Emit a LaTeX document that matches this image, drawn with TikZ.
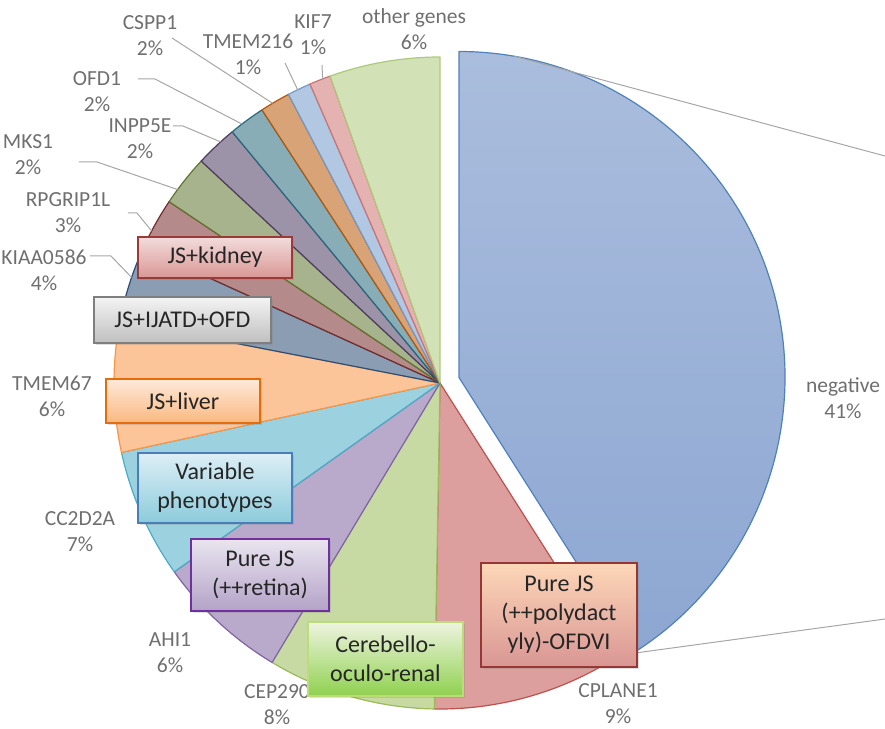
\documentclass[tikz,border=0pt]{standalone}
\usepackage{fontspec}
\setmainfont{Carlito}
\usetikzlibrary{calc,shadows}
% series colours
\definecolor{negblue}{HTML}{4F81BD}
\definecolor{negtop}{HTML}{AABDDD}
\definecolor{negbot}{HTML}{8DA7D2}
\definecolor{cplane}{HTML}{C0504D}
\definecolor{cep}{HTML}{9BBB59}
\definecolor{ahi}{HTML}{8064A2}
\definecolor{ccd}{HTML}{4BACC6}
\definecolor{tmemsix}{HTML}{F79646}
\definecolor{kiaa}{HTML}{2C4D75}
\definecolor{rpg}{HTML}{772C2A}
\definecolor{mks}{HTML}{5F7530}
\definecolor{inpp}{HTML}{4D3B62}
\definecolor{ofd}{HTML}{276A7C}
\definecolor{cspp}{HTML}{B65708}
\definecolor{tmemtwo}{HTML}{729ACA}
\definecolor{kif}{HTML}{CD7371}
\definecolor{othergn}{HTML}{AFC97A}
% text and box colours
\definecolor{labelgray}{HTML}{6F6F6F}
\definecolor{leadgray}{HTML}{A6A6A6}
\definecolor{boxtext}{HTML}{262626}
\definecolor{kidtop}{HTML}{F2DCDB}
\definecolor{kidbot}{HTML}{D99795}
\definecolor{kidline}{HTML}{9C3A38}
\definecolor{jatdtop}{HTML}{F4F4F4}
\definecolor{jatdbot}{HTML}{BFBFBF}
\definecolor{jatdline}{HTML}{7F7F7F}
\definecolor{livtop}{HTML}{FDEADA}
\definecolor{livbot}{HTML}{FAB880}
\definecolor{livline}{HTML}{E46C0A}
\definecolor{vartop}{HTML}{DDEFF6}
\definecolor{varbot}{HTML}{8CCBDC}
\definecolor{varline}{HTML}{4A7EBB}
\definecolor{rettop}{HTML}{EAE5F0}
\definecolor{retbot}{HTML}{B3A2C7}
\definecolor{retline}{HTML}{7030A0}
\definecolor{cortop}{HTML}{EEF4E0}
\definecolor{corbot}{HTML}{8FD14F}
\definecolor{corline}{HTML}{BCDC7A}
\definecolor{poltop}{HTML}{FDD7B8}
\definecolor{polbot}{HTML}{D99694}
\definecolor{polline}{HTML}{953735}
\tikzset{
  piewedge/.style={draw=#1, fill=#1!55!white, line width=1.2pt, line join=round},
  genelabel/.style={text=labelgray, align=center, inner sep=0pt, font=\fontsize{21.5}{26}\selectfont},
  leader/.style={draw=leadgray, line width=1pt},
  pheno/.style n args={3}{draw=#3, top color=#1, bottom color=#2, line width=1.6pt,
    align=center, inner sep=0pt, text=boxtext, font=\fontsize{24}{29}\selectfont,
    drop shadow={shadow xshift=2pt, shadow yshift=-2pt, opacity=0.25}}
}

\begin{document}
\begin{tikzpicture}[x=1pt,y=1pt]
    \pgfmathsetmacro{\R}{326}
    \useasboundingbox (-440,-345) rectangle (445,383);
    % exploded slice
    \draw[draw=negblue, line width=1.2pt, line join=round, top color=negtop, bottom color=negbot]
      (19,5.5) coordinate (negc) -- +(-57.6:\R) arc[start angle=-57.6, end angle=90, radius=\R] -- cycle;
    % the other slices, clockwise
    \foreach \a/\b/\c in {-91/-57.6/cplane, -121/-91/cep, -144.6/-121/ahi, -167.7/-144.6/ccd,
      -191/-167.7/tmemsix, -204.5/-191/kiaa, -213.8/-204.5/rpg, -222.9/-213.8/mks,
      -230.4/-222.9/inpp, -236.9/-230.4/ofd, -242.3/-236.9/cspp, -246.5/-242.3/tmemtwo,
      -250.3/-246.5/kif, -270/-250.3/othergn}
      \draw[piewedge=\c] (0,0) -- (\a:\R) arc[start angle=\a, end angle=\b, radius=\R] -- cycle;
    % gene labels
    \node[genelabel] (other) at (-26,354) {other genes\\6\%};
    \node[genelabel] (kif7) at (-127,348) {KIF7\\1\%};
    \node[genelabel] (tmem216) at (-192,328.5) {TMEM216\\1\%};
    \node[genelabel] (cspp1) at (-290,347) {CSPP1\\2\%};
    \node[genelabel] (ofd1) at (-343,291.5) {OFD1\\2\%};
    \node[genelabel] (inpp5e) at (-300,244) {INPP5E\\2\%};
    \node[genelabel] (mks1) at (-412,228) {MKS1\\2\%};
    \node[genelabel] (rpgrip) at (-372,170) {RPGRIP1L\\3\%};
    \node[genelabel] (kiaa0586) at (-396,113) {KIAA0586\\4\%};
    \node[genelabel] (tmem67) at (-388,-13) {TMEM67\\6\%};
    \node[genelabel] (cc2d2a) at (-360,-148.5) {CC2D2A\\7\%};
    \node[genelabel] (ahi1) at (-270,-270) {AHI1\\6\%};
    \node[genelabel] (cep290) at (-163,-321.5) {CEP290\\8\%};
    \node[genelabel] (cplane1) at (178,-320.5) {CPLANE1\\9\%};
    \node[genelabel] (negative) at (403,-15.5) {negative\\41\%};
    % leader lines
    \coordinate (kif7 tip) at (111.1:\R);
    \coordinate (tmem216 tip) at (115.9:\R);
    \coordinate (cspp1 tip) at (120.9:\R);
    \coordinate (ofd1 tip) at (127.4:\R);
    \coordinate (inpp5e tip) at (132.3:\R);
    \coordinate (mks1 tip) at (143.6:\R);
    \coordinate (rpgrip tip) at (152.2:\R);
    \coordinate (kiaa0586 tip) at (161.1:\R);
    \draw[leader] (-118,318) -- (kif7 tip);
    \draw[leader] (-155,320) -- (tmem216 tip);
    \draw[leader] (-268,345) -- (cspp1 tip);
    \draw[leader] (-302,304) -- (-285,304) -- (ofd1 tip);
    \draw[leader] (-267,257) -- (-257,257) -- (inpp5e tip);
    \draw[leader] (-361,221) -- (-343,221) -- (mks1 tip);
    \draw[leader] (-312,170) -- (-303,170) -- (rpgrip tip);
    \draw[leader] (-350,127) -- (-329,127) -- (kiaa0586 tip);
    \coordinate (negtop end) at (445,227);
    \coordinate (negbot end) at (445,-236);
    \draw[leader] ($(negc)+(80.2:\R)$) -- (negtop end);
    \draw[leader] ($(negc)+(-57.8:\R)$) -- (negbot end);
    % phenotype boxes
    \node[pheno={kidtop}{kidbot}{kidline}, minimum width=154, minimum height=41] (kidney) at (-225,125.5) {JS+kidney};
    \node[pheno={jatdtop}{jatdbot}{jatdline}, minimum width=177, minimum height=46] (jatd) at (-257.5,63) {JS+IJATD+OFD};
    \node[pheno={livtop}{livbot}{livline}, minimum width=154, minimum height=44] (liver) at (-257,-18) {JS+liver};
    \node[pheno={vartop}{varbot}{varline}, minimum width=154, minimum height=70] (variable) at (-225,-105) {Variable\\phenotypes};
    \node[pheno={rettop}{retbot}{retline}, minimum width=138, minimum height=72] (retina) at (-180,-192) {Pure JS\\(++retina)};
    \node[pheno={cortop}{corbot}{corline}, minimum width=155, minimum height=74] (cerebello) at (-54.5,-276) {Cerebello-\\oculo-renal};
    \node[pheno={poltop}{polbot}{polline}, minimum width=156, minimum height=104] (polydact) at (119,-232) {Pure JS\\(++polydact\\yly)-OFDVI};
\end{tikzpicture}
\end{document}
